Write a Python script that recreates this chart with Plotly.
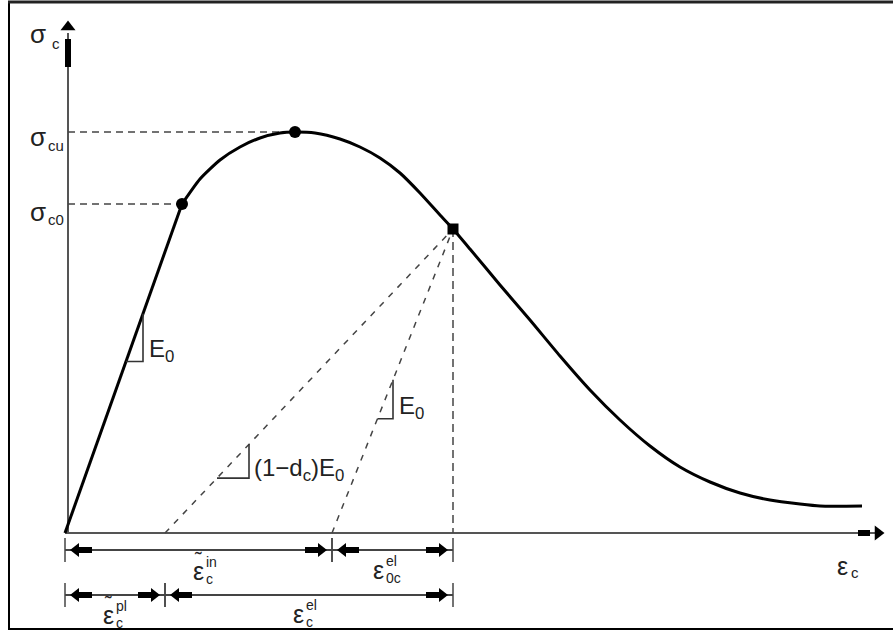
import plotly.graph_objects as go

# Uniaxial compressive response of concrete (schematic units: strain, stress)
strain_linear = [0.0, 1.17]
stress_linear = [0.0, 32.9]

strain_curve = [1.17, 1.35, 1.55, 1.75, 1.95, 2.15, 2.30, 2.50, 2.75, 2.95, 3.15,
                3.35, 3.55, 3.75, 3.88, 4.05, 4.35, 4.65, 4.95, 5.25, 5.55, 5.85,
                6.15, 6.45, 6.75, 7.05, 7.35, 7.55, 7.97]
stress_curve = [32.9, 35.4, 37.3, 38.6, 39.5, 40.0, 40.1, 40.0, 39.4, 38.6, 37.5,
                36.0, 34.0, 31.8, 30.4, 28.4, 24.8, 21.3, 17.7, 14.3, 11.3, 8.7,
                6.6, 5.1, 4.0, 3.3, 2.9, 2.7, 2.7]

# Characteristic points
eps_c0, sig_c0 = 1.17, 32.9      # end of elastic range
eps_cu, sig_cu = 2.30, 40.1      # ultimate stress
eps_un, sig_un = 3.88, 30.4      # unloading point
eps_pl = 1.00                    # plastic strain (damaged unloading intercept)
eps_in = 2.67                    # inelastic strain (elastic unloading intercept)

X0, X1 = -0.65, 8.28
Y0, Y1 = -10.0, 53.3
W, H = 893, 633
PX = (X1 - X0) / W   # data units per pixel (x)
PY = (Y1 - Y0) / H   # data units per pixel (y)

AX_COL = "#555555"
DASH_COL = "#444444"
TXT = "#222222"
FONT = "Liberation Sans, Arial, sans-serif"

fig = go.Figure()


def line(xs, ys, color=DASH_COL, width=1.5, dash=None, shape="linear", smoothing=None):
    ln = dict(color=color, width=width, dash=dash, shape=shape)
    if smoothing is not None:
        ln["smoothing"] = smoothing
    fig.add_trace(go.Scatter(x=xs, y=ys, mode="lines", hoverinfo="skip", line=ln))


def head(x, y, symbol, size):
    fig.add_trace(go.Scatter(x=[x], y=[y], mode="markers", hoverinfo="skip",
                             marker=dict(symbol=symbol, size=size, color="black",
                                         line=dict(width=0))))


# axes
y_axis_x = 0.03
line([y_axis_x, y_axis_x], [0, 50.0], color=AX_COL, width=2)
line([0, 8.10], [0, 0], color=AX_COL, width=2)
# axis arrows
line([y_axis_x, y_axis_x], [46.6, 49.4], color="black", width=6)
head(y_axis_x, 50.6, "triangle-up", 13)
line([7.93, 8.05], [0, 0], color="black", width=6)
head(8.13, 0, "triangle-right", 13)

# reference dashed lines
line([y_axis_x, eps_cu], [sig_cu, sig_cu], dash="7px,5px")
line([y_axis_x, eps_c0], [sig_c0, sig_c0], dash="7px,5px")
line([eps_un, eps_un], [sig_un, 0], dash="8px,5px")
line([eps_pl, eps_un], [0, sig_un], dash="6px,7px")
line([eps_in, eps_un], [0, sig_un], dash="6px,7px")

# stress-strain curve
line(strain_linear, stress_linear, color="black", width=3)
line(strain_curve, stress_curve, color="black", width=3, shape="spline", smoothing=0.6)

# markers
fig.add_trace(go.Scatter(x=[eps_c0, eps_cu], y=[sig_c0, sig_cu], mode="markers",
                         hoverinfo="skip", marker=dict(color="black", size=12, symbol="circle")))
fig.add_trace(go.Scatter(x=[eps_un], y=[sig_un], mode="markers", hoverinfo="skip",
                         marker=dict(color="black", size=11, symbol="square")))


# slope triangles (two legs each, hypotenuse lies on the line)
def slope_triangle(x_start, slope, xa, xb):
    ya = slope * (xa - x_start)
    yb = slope * (xb - x_start)
    line([xa, xb, xb], [ya, ya, yb], color="#333333", width=1.6)


k0 = sig_c0 / eps_c0
k_el = sig_un / (eps_un - eps_in)
k_d = sig_un / (eps_un - eps_pl)
slope_triangle(0.0, k0, 0.61, 0.78)
slope_triangle(eps_in, k_el, 3.125, 3.28)
slope_triangle(eps_pl, k_d, 1.52, 1.84)

# dimension lines
rows = {1: -1.7, 2: -6.2}
segments = [(0.0, eps_in, rows[1]), (eps_in, eps_un, rows[1]),
            (0.0, eps_pl, rows[2]), (eps_pl, eps_un, rows[2])]
for a, b, yy in segments:
    line([a, b], [yy, yy], color="#444444", width=2)
    for xt in (a, b):
        line([xt, xt], [yy + 12 * PY, yy - 12 * PY], color="#444444", width=1.5)
    # arrowheads pointing at the extension ticks
    line([a + 13 * PX, a + 27 * PX], [yy, yy], color="black", width=6)
    head(a + 11 * PX, yy, "triangle-left", 12)
    line([b - 27 * PX, b - 13 * PX], [yy, yy], color="black", width=6)
    head(b - 11 * PX, yy, "triangle-right", 12)

annotations = []


def text(x, y, s, size=26, xanchor="center", yanchor="middle"):
    annotations.append(dict(x=x, y=y, xref="x", yref="y", text=s, showarrow=False,
                            xanchor=xanchor, yanchor=yanchor,
                            font=dict(family=FONT, size=size, color=TXT)))


# stress labels on the vertical axis
text(-0.27, 49.9, "σ")
text(-0.155, 49.0, "c", size=15, xanchor="left")
text(-0.27, sig_cu - 0.5, "σ")
text(-0.19, sig_cu - 1.3, "cu", size=15, xanchor="left")
text(-0.27, sig_c0 - 0.8, "σ")
text(-0.19, sig_c0 - 1.5, "c0", size=15, xanchor="left")

# modulus labels
text(0.82, 18.3, "E<sub>0</sub>", size=24, xanchor="left")
text(3.32, 12.6, "E<sub>0</sub>", size=24, xanchor="left")
text(1.87, 6.4, "(1−d<sub>c</sub>)E<sub>0</sub>", size=24, xanchor="left")


# strain labels
def strain_label(xc, yc, sup, sub, tilde=False):
    text(xc, yc, "ε", size=25)
    if tilde:
        text(xc, yc + 12 * PY, "\u02dc", size=20)
    text(xc + 6 * PX, yc + 9 * PY, sup, size=14, xanchor="left")
    text(xc + 6 * PX, yc - 8 * PY, sub, size=14, xanchor="left")


strain_label(1.33, -3.8, "in", "c", tilde=True)
strain_label(3.13, -3.7, "el", "0c")
strain_label(0.43, -8.2, "pl", "c", tilde=True)
strain_label(2.33, -8.1, "el", "c")
text(7.77, -3.3, "ε", size=25)
text(7.84, -3.9, "c", size=15, xanchor="left")

# outer frame
shapes = [
    dict(type="line", xref="paper", yref="paper", x0=9 / W, x1=9 / W,
         y0=1 - 2 / H, y1=1 - 630 / H, line=dict(color="black", width=2)),
    dict(type="line", xref="paper", yref="paper", x0=8 / W, x1=1,
         y0=1 - 2 / H, y1=1 - 2 / H, line=dict(color="#222222", width=3)),
    dict(type="line", xref="paper", yref="paper", x0=8 / W, x1=1,
         y0=1 - 629 / H, y1=1 - 629 / H, line=dict(color="black", width=2)),
]

fig.update_layout(
    width=W, height=H, margin=dict(l=0, r=0, t=0, b=0),
    paper_bgcolor="white", plot_bgcolor="white", showlegend=False,
    xaxis=dict(range=[X0, X1], visible=False, fixedrange=True),
    yaxis=dict(range=[Y0, Y1], visible=False, fixedrange=True),
    annotations=annotations, shapes=shapes,
)

fig.write_html("out.html")
